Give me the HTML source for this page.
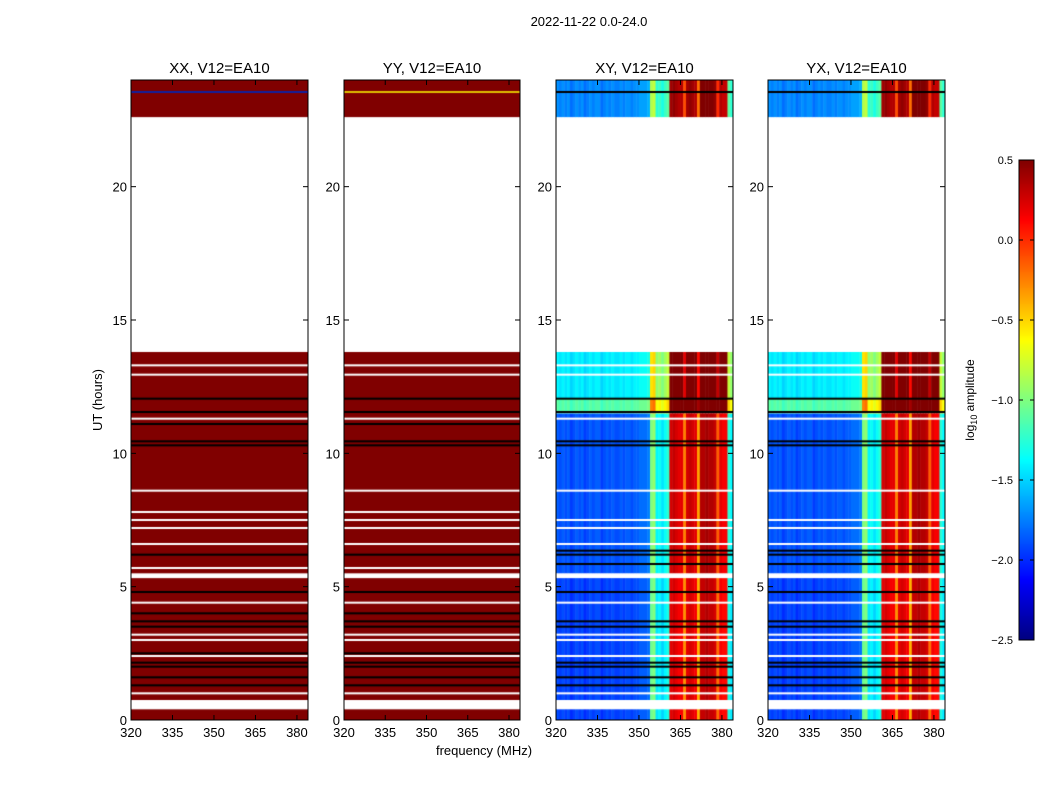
<!DOCTYPE html>
<html><head><meta charset="utf-8"><style>
body{margin:0;background:#fff;width:1050px;height:800px;overflow:hidden;font-family:"Liberation Sans",sans-serif}
#wrap{position:relative;width:1050px;height:800px}
canvas{position:absolute}
svg{position:absolute;left:0;top:0}
</style></head><body><div id="wrap">
<canvas id="c0" width="177" height="640" style="left:131px;top:80px"></canvas>
<canvas id="c1" width="176" height="640" style="left:344px;top:80px"></canvas>
<canvas id="c2" width="177" height="640" style="left:556px;top:80px"></canvas>
<canvas id="c3" width="177" height="640" style="left:768px;top:80px"></canvas>
<canvas id="cb" width="15" height="480" style="left:1019px;top:160px"></canvas>
<svg id="s" width="1050" height="800"></svg>
</div>
<script>
// data
const freqStart = 320, freqEnd = 384;
const xTicks = [320,335,350,365,380];
const yTicks = [0,5,10,15,20];
const cbTicks = [0.5,0.0,-0.5,-1.0,-1.5,-2.0,-2.5];
const panelTitles = ["XX, V12=EA10","YY, V12=EA10","XY, V12=EA10","YX, V12=EA10"];
// log10 amplitude per 1 MHz bin (320..383) for cross-hands
const crossProfile = [-1.9,-1.95,-1.9,-1.95,-1.9,-2.0,-1.95,-1.9,-1.95,-1.9,-2.0,-1.95,-1.9,-1.95,-1.9,-1.9,
 -2.0,-1.95,-1.9,-1.95,-1.9,-1.95,-1.95,-1.9,-1.95,-1.9,-1.9,-1.95,-1.9,-1.9,-1.85,-1.85,
 -1.85,-1.8,-1.05,-1.0,-1.45,-1.4,-1.5,-1.4,-1.3,0.2,0.25,0.2,0.15,0.15,-0.3,0.2,
 0.25,0.2,0.15,-0.4,0.3,0.3,0.35,0.3,0.3,0.25,-0.2,0.15,0.1,0.1,-1.3,-1.45];
const parallelValue = 0.5;
// time bands [start h, end h, offset]
const bandStart = [0,5.5,11.5,12.05];
const bandEnd = [5.5,11.5,12.05,13.8];
const bandOffset = [0,0.05,0.8,0.5];
const flagStart = [0.4,5.32,13.8];
const flagEnd = [0.75,5.5,22.6];
const blackLines = [1.3,1.6,2.0,2.15,3.5,3.7,4.8,5.85,6.2,6.35,10.3,10.45,11.55,12.05,23.55];
const whiteLines = [2.4,3.0,3.2,4.4,7.2,7.5,8.6,11.3,12.95,13.3,1.0,6.6];
const blackLinesPar = [1.3,1.6,2.0,2.15,2.5,3.5,3.7,4.0,4.8,6.2,11.55,12.05,10.3,10.45,11.1];
const whiteLinesPar = [1.0,2.4,3.0,3.2,4.4,5.7,6.6,7.2,7.5,7.8,8.6,11.3,12.95,13.3];
const vmin=-2.5, vmax=0.5;

function jet(v){
  let t=(v-vmin)/(vmax-vmin); t=Math.max(0,Math.min(1,t));
  const f=x=>Math.max(0,Math.min(1,x));
  const r=f(1.5-Math.abs(4*t-3)), g=f(1.5-Math.abs(4*t-2)), b=f(1.5-Math.abs(4*t-1));
  return `rgb(${Math.round(r*255)},${Math.round(g*255)},${Math.round(b*255)})`;
}
const H=640;
const yPix=h=>H-h/24*H;
function drawPanel(id,cross,w){
  const ctx=document.getElementById(id).getContext('2d');
  const xPix=f=>(f-freqStart)/(freqEnd-freqStart)*w;
  ctx.fillStyle='#fff';ctx.fillRect(0,0,w,H);
  if(cross){
    for(let b=0;b<bandStart.length;b++){
      for(let i=0;i<crossProfile.length;i++){
        ctx.fillStyle=jet(crossProfile[i]+bandOffset[b]);
        const x0=xPix(freqStart+i),x1=xPix(freqStart+i+1);
        ctx.fillRect(x0,yPix(bandEnd[b]),x1-x0+0.5,yPix(bandStart[b])-yPix(bandEnd[b]));
      }
    }
    for(let i=0;i<crossProfile.length;i++){
      ctx.fillStyle=jet(crossProfile[i]+0.2);
      const x0=xPix(freqStart+i),x1=xPix(freqStart+i+1);
      ctx.fillRect(x0,yPix(24),x1-x0+0.5,yPix(22.6)-yPix(24));
    }
  } else {
    ctx.fillStyle=jet(parallelValue);
    ctx.fillRect(0,yPix(13.8),w,yPix(0)-yPix(13.8));
    ctx.fillRect(0,yPix(24),w,yPix(22.6)-yPix(24));
  }
  ctx.fillStyle='#fff';
  for(let i=0;i<flagStart.length;i++) ctx.fillRect(0,yPix(flagEnd[i]),w,yPix(flagStart[i])-yPix(flagEnd[i]));
  const wl=cross?whiteLines:whiteLinesPar, bl=cross?blackLines:blackLinesPar;
  wl.forEach(t=>{ctx.fillRect(0,yPix(t)-1,w,2);});
  ctx.fillStyle='#000';
  bl.forEach(t=>{ctx.fillRect(0,yPix(t)-1,w,2);});
  if(id==='c0'){ctx.fillStyle='#1020a0';ctx.fillRect(0,yPix(23.55)-1,w,2);}
  if(id==='c1'){ctx.fillStyle='#e0c000';ctx.fillRect(0,yPix(23.55)-1,w,2);}
}
drawPanel('c0',false,177);drawPanel('c1',false,176);drawPanel('c2',true,177);drawPanel('c3',true,177);
const cb=document.getElementById('cb').getContext('2d');
for(let y=0;y<480;y++){cb.fillStyle=jet(vmax-(y+0.5)/480*(vmax-vmin));cb.fillRect(0,y,15,1);}

const S=document.getElementById('s');const NS='http://www.w3.org/2000/svg';
function el(tag,attrs,txt){const e=document.createElementNS(NS,tag);for(const k in attrs)e.setAttribute(k,attrs[k]);if(txt!==undefined)e.textContent=txt;S.appendChild(e);return e;}
const lefts=[131,344,556,768],widths=[177,176,177,177];
lefts.forEach((L,p)=>{
  const W=widths[p];
  const r=el('rect',{x:L,y:80,width:W,height:640,fill:'none',stroke:'#000','stroke-width':1});
  
  const t=el('text',{x:L+W/2,y:73,'text-anchor':'middle','font-size':15},panelTitles[p]);
  
  xTicks.forEach(f=>{
    const x=L+(f-freqStart)/(freqEnd-freqStart)*W;
    el('line',{x1:x,x2:x,y1:720,y2:715,stroke:'#000'});
    el('line',{x1:x,x2:x,y1:80,y2:85,stroke:'#000'});
    const tl=el('text',{x:x,y:737,'text-anchor':'middle','font-size':13},String(f));
    
  });
  yTicks.forEach(h=>{
    const y=80+yPix(h);
    el('line',{x1:L,x2:L+5,y1:y,y2:y,stroke:'#000'});
    el('line',{x1:L+W,x2:L+W-5,y1:y,y2:y,stroke:'#000'});
    const tl=el('text',{x:L-4,y:y+5,'text-anchor':'end','font-size':13},String(h));
    
  });
});
let e;
e=el('text',{x:589,y:26,'text-anchor':'middle','font-size':13},'2022-11-22 0.0-24.0');

e=el('text',{x:484,y:755,'text-anchor':'middle','font-size':13},'frequency (MHz)');

e=el('text',{x:102,y:400,'text-anchor':'middle','font-size':13,transform:'rotate(-90 102 400)'},'UT (hours)');

el('rect',{x:1019,y:160,width:15,height:480,fill:'none',stroke:'#000'});
cbTicks.forEach(v=>{
  const y=160+(vmax-v)/(vmax-vmin)*480;
  el('line',{x1:1019,x2:1023,y1:y,y2:y,stroke:'#000'});
  el('line',{x1:1034,x2:1030,y1:y,y2:y,stroke:'#000'});
  const tl=el('text',{x:1013,y:y+4,'text-anchor':'end','font-size':11},v.toFixed(1).replace('-','\u2212'));
  
});
e=el('text',{x:974,y:400,'text-anchor':'middle','font-size':12,transform:'rotate(-90 974 400)'});
e.innerHTML='log<tspan font-size="9" dy="3">10</tspan><tspan dy="-3"> amplitude</tspan>';

</script></body></html>
